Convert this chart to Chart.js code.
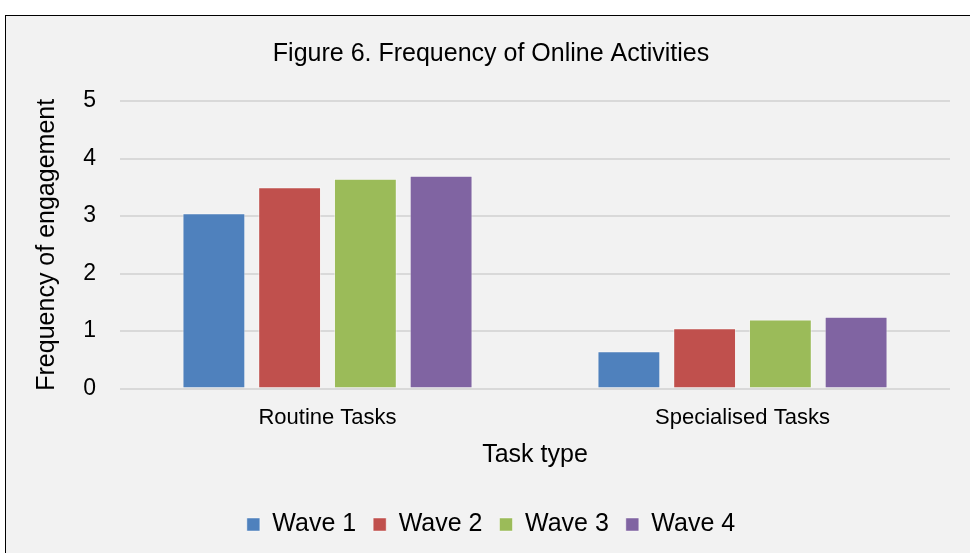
<!DOCTYPE html>
<html>
<head>
<meta charset="utf-8">
<script src="https://cdn.jsdelivr.net/npm/chart.js@4"></script>
<style>
  html, body { margin: 0; padding: 0; background: #fff; overflow: hidden; }
  #frame {
    position: absolute; left: 5px; top: 15px; width: 990px; height: 560px;
    background: #f2f2f2; border: 1px solid #000;
  }
  #wrap { position: absolute; left: 0; top: 0; width: 970px; height: 553px; }
</style>
</head>
<body>
<div id="frame"></div>
<div id="wrap"><canvas id="chart"></canvas></div>
<script>
const categories = ['Routine Tasks', 'Specialised Tasks'];
const seriesNames = ['Wave 1', 'Wave 2', 'Wave 3', 'Wave 4'];
const wave1 = [3.05, 0.65];
const wave2 = [3.5, 1.05];
const wave3 = [3.65, 1.2];
const wave4 = [3.7, 1.25];
const yTicks = [0, 1, 2, 3, 4, 5];

const colors = ['#4f81bd', '#c0504d', '#9bbb59', '#8064a2'];
const FONT = "'Liberation Sans', Arial, sans-serif";

const ctx = document.getElementById('chart').getContext('2d');

// Build datasets from the named arrays
const datasets = [wave1, wave2, wave3, wave4].map((values, i) => ({
    label: seriesNames[i],
    data: values,
    backgroundColor: colors[i],
    borderColor: 'rgba(255,255,255,0.45)',
    borderWidth: 1,
    categoryPercentage: 0.73,
    barPercentage: 0.83
}));

new Chart(ctx, {
    type: 'bar',
    data: { labels: categories, datasets: datasets },
    options: {
        responsive: true,
        maintainAspectRatio: false,
        animation: false,
        layout: { padding: { top: 30, left: 32, right: 20, bottom: 6 } },
        plugins: {
            title: {
                display: true,
                text: 'Figure 6. Frequency of Online Activities',
                color: '#000',
                font: { family: FONT, size: 25, weight: 'normal' },
                padding: { top: 9, bottom: 32 }
            },
            legend: {
                position: 'bottom',
                labels: {
                    color: '#000',
                    font: { family: FONT, size: 25 },
                    boxWidth: 13,
                    boxHeight: 13,
                    padding: 17
                }
            },
            tooltip: { enabled: false }
        },
        scales: {
            x: {
                grid: { display: false, drawTicks: false },
                border: { display: false },
                ticks: { color: '#000', font: { family: FONT, size: 22 }, padding: 16 },
                title: {
                    display: true,
                    text: 'Task type',
                    color: '#000',
                    font: { family: FONT, size: 25 },
                    padding: { top: -7, bottom: 25 }
                }
            },
            y: {
                min: 0,
                max: 5,
                afterBuildTicks: axis => { axis.ticks = yTicks.map(v => ({ value: v })); },
                afterFit: axis => { axis.width = 88; },
                grid: { color: '#d9d9d9', lineWidth: 2, drawTicks: false },
                border: { display: false },
                ticks: { color: '#000', font: { family: FONT, size: 23 }, padding: 24 },
                title: {
                    display: true,
                    text: 'Frequency of engagement',
                    color: '#000',
                    font: { family: FONT, size: 25 },
                    padding: 0
                }
            }
        }
    }
});
</script>
</body>
</html>
